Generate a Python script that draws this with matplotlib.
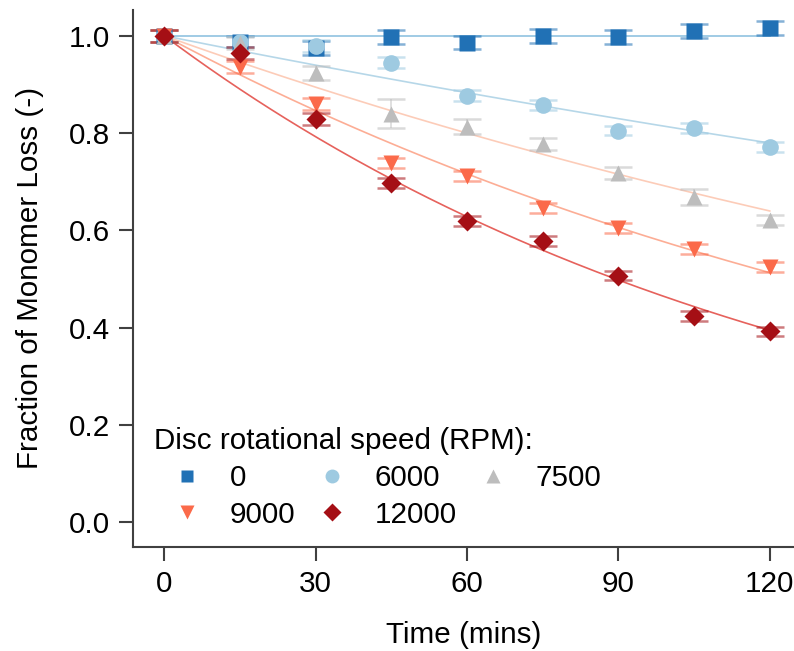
import numpy as np
import matplotlib
matplotlib.use("Agg")
import matplotlib.pyplot as plt

plt.rcParams['font.family'] = ['Liberation Sans', 'DejaVu Sans']

time = [0, 15, 30, 45, 60, 75, 90, 105, 120]
speeds = ["0", "6000", "7500", "9000", "12000"]

y_0 = [1.0, 0.988, 0.975, 0.998, 0.986, 1.0, 0.997, 1.01, 1.016]
e_0 = [0.012, 0.012, 0.014, 0.014, 0.014, 0.014, 0.014, 0.014, 0.014]
y_6000 = [1.0, 0.988, 0.979, 0.945, 0.877, 0.858, 0.805, 0.811, 0.772]
e_6000 = [0.012, 0.012, 0.012, 0.012, 0.012, 0.01, 0.01, 0.01, 0.01]
y_7500 = [1.0, 0.985, 0.924, 0.84, 0.813, 0.778, 0.718, 0.669, 0.621]
e_7500 = [0.012, 0.012, 0.014, 0.03, 0.015, 0.012, 0.012, 0.016, 0.01]
y_9000 = [1.0, 0.936, 0.86, 0.739, 0.711, 0.646, 0.605, 0.562, 0.525]
e_9000 = [0.012, 0.012, 0.012, 0.01, 0.01, 0.01, 0.01, 0.01, 0.01]
y_12000 = [1.0, 0.965, 0.829, 0.697, 0.619, 0.578, 0.507, 0.424, 0.392]
e_12000 = [0.012, 0.012, 0.012, 0.01, 0.01, 0.01, 0.01, 0.01, 0.01]

series_y = [y_0, y_6000, y_7500, y_9000, y_12000]
series_e = [e_0, e_6000, e_7500, e_9000, e_12000]
marker_colors = ["#2171b5", "#9ecae1", "#bdbdbd", "#fb6a4a", "#a50f15"]
line_colors = ["#6baed6", "#9ecae1", "#fcbba1", "#fc9272", "#de2d26"]
markers = ["s", "o", "^", "v", "D"]
msizes = [11, 12, 12, 12, 10]
legend_msizes = [9, 10, 10, 10, 9]

FS = 21.3

fig = plt.figure(figsize=(7.94, 6.51), dpi=100)
ax = fig.add_axes([0.168, 0.16, 0.832, 0.825])

t = np.array(time, dtype=float)
tt = np.linspace(0, 120, 200)
handles = []
for i, (ys, es) in enumerate(zip(series_y, series_e)):
    y = np.array(ys)
    # first-order decay fit through (0, 1)
    k = -np.sum(t * np.log(y)) / np.sum(t * t)
    if i == 0:
        k = 0.0
    ax.plot(tt, np.exp(-k * tt), color=line_colors[i], lw=1.2, alpha=0.75, zorder=1)
    ax.errorbar(t, y, yerr=es, fmt='none', ecolor=marker_colors[i], alpha=0.55,
                capsize=10, capthick=1.8, elinewidth=1.2, zorder=2)
    ax.plot(t, y, linestyle='none', marker=markers[i], ms=msizes[i],
            color=marker_colors[i], mec='none', zorder=3)
    h, = ax.plot([], [], linestyle='none', marker=markers[i], ms=legend_msizes[i],
                 color=marker_colors[i], mec='none', label=speeds[i])
    handles.append(h)

ax.set_xlim(-6.1, 124.8)
ax.set_ylim(-0.051, 1.0535)
ax.set_xticks([0, 30, 60, 90, 120])
ax.set_yticks([0.0, 0.2, 0.4, 0.6, 0.8, 1.0])
ax.set_yticklabels(["0.0", "0.2", "0.4", "0.6", "0.8", "1.0"])
for s in ['top', 'right']:
    ax.spines[s].set_visible(False)
for s in ['left', 'bottom']:
    ax.spines[s].set_color('#404040')
    ax.spines[s].set_linewidth(1.5)
ax.tick_params(direction='out', length=10, width=1.5, color='#404040',
               labelsize=FS, pad=7)
ax.set_xlabel("Time (mins)", fontsize=FS, labelpad=16)
ax.set_ylabel("Fraction of Monomer Loss (-)", fontsize=FS, labelpad=18)

order = [0, 3, 1, 4, 2]
leg = ax.legend(handles=[handles[j] for j in order], title="Disc rotational speed (RPM):",
                ncol=3, loc='lower left', bbox_to_anchor=(0.0, -0.005), frameon=False,
                fontsize=FS, title_fontsize=FS, handlelength=2.2, handletextpad=0.35,
                columnspacing=0.13, labelspacing=0.3, borderpad=0.2)
leg._legend_box.align = "left"

fig.savefig("out.png", dpi=100)
